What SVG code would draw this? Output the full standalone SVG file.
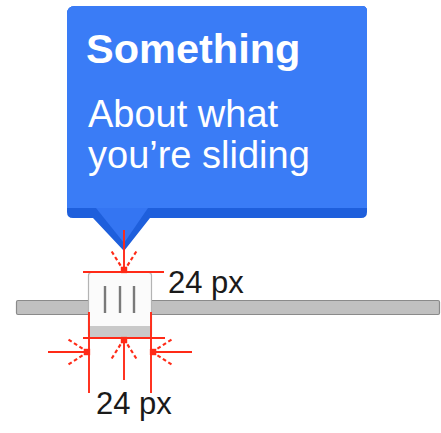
<svg xmlns="http://www.w3.org/2000/svg" width="441" height="433" viewBox="0 0 441 433">
<style>
.txt{font-family:"Liberation Sans",Arial,sans-serif}
.tip{fill:#ffffff}
.dim{stroke:#ff2a17;stroke-width:1.9;fill:none}
.lbl{fill:#1a1a1a;font-size:31px}
.bar{stroke:#7a7a7a;stroke-width:2.4}
</style>
<defs>
<marker id="ah" markerUnits="userSpaceOnUse" markerWidth="30" markerHeight="30" viewBox="-22 -14 26 28" refX="0" refY="0" orient="auto" overflow="visible">
<rect x="-4" y="-3" width="6" height="6" fill="#ff2a17"/>
<path d="M0,0 L-19,-12 M0,0 L-19,12" stroke="#ff2a17" stroke-width="2" stroke-dasharray="3.5 2.5" fill="none"/>
</marker>
</defs>
<rect width="441" height="433" fill="#ffffff"/>
<g id="tooltip">
<path d="M67,14 Q67,6 75,6 H362 Q367,6 367,11 V212 Q367,218 361,218 H150 L124,251 L93,218 H73 Q67,218 67,212 Z" fill="#1e5fdc"/>
<path d="M67,14 Q67,6 75,6 H362 Q367,6 367,11 V208 H67 Z" fill="#3a7cf6"/>
<path d="M96,208 H148 L124,243 Z" fill="#3475f2"/>
<text class="txt tip" x="86" y="63" font-size="41.5" font-weight="bold">Something</text>
<text class="txt tip" x="88" y="127" font-size="38">About what</text>
<text class="txt tip" x="88" y="168" font-size="38">you’re sliding</text>
</g>
<g id="track">
<rect x="16.5" y="300.5" width="423" height="14" rx="1.5" fill="#c0c0c0" stroke="#8a8a8a" stroke-width="1.2"/>
</g>
<g id="handle">
<rect x="88.5" y="272.5" width="63" height="65" rx="3" fill="#fbfbfb" stroke="#b4b4b4" stroke-width="1.2"/>
<rect x="89" y="326" width="62" height="11" fill="#c9c9c9"/>
<line class="bar" x1="105" y1="286" x2="105" y2="313"/>
<line class="bar" x1="120" y1="286" x2="120" y2="313"/>
<line class="bar" x1="134" y1="286" x2="134" y2="313"/>
</g>
<g id="connectors">
<line class="dim" x1="83" y1="272" x2="164" y2="272"/>
<line class="dim" x1="83" y1="338" x2="165" y2="338"/>
<line class="dim" x1="89" y1="312" x2="89" y2="393"/>
<line class="dim" x1="151" y1="312" x2="151" y2="393"/>
<line class="dim" x1="124" y1="230" x2="124" y2="271" marker-end="url(#ah)"/>
<line class="dim" x1="124" y1="380" x2="124" y2="339" marker-end="url(#ah)"/>
<line class="dim" x1="48" y1="352" x2="88" y2="352" marker-end="url(#ah)"/>
<line class="dim" x1="192" y1="352" x2="152" y2="352" marker-end="url(#ah)"/>
</g>
<g id="label-height">
<text class="txt lbl" x="168" y="293">24 px</text>
</g>
<g id="label-width">
<text class="txt lbl" x="96" y="414">24 px</text>
</g>
</svg>
